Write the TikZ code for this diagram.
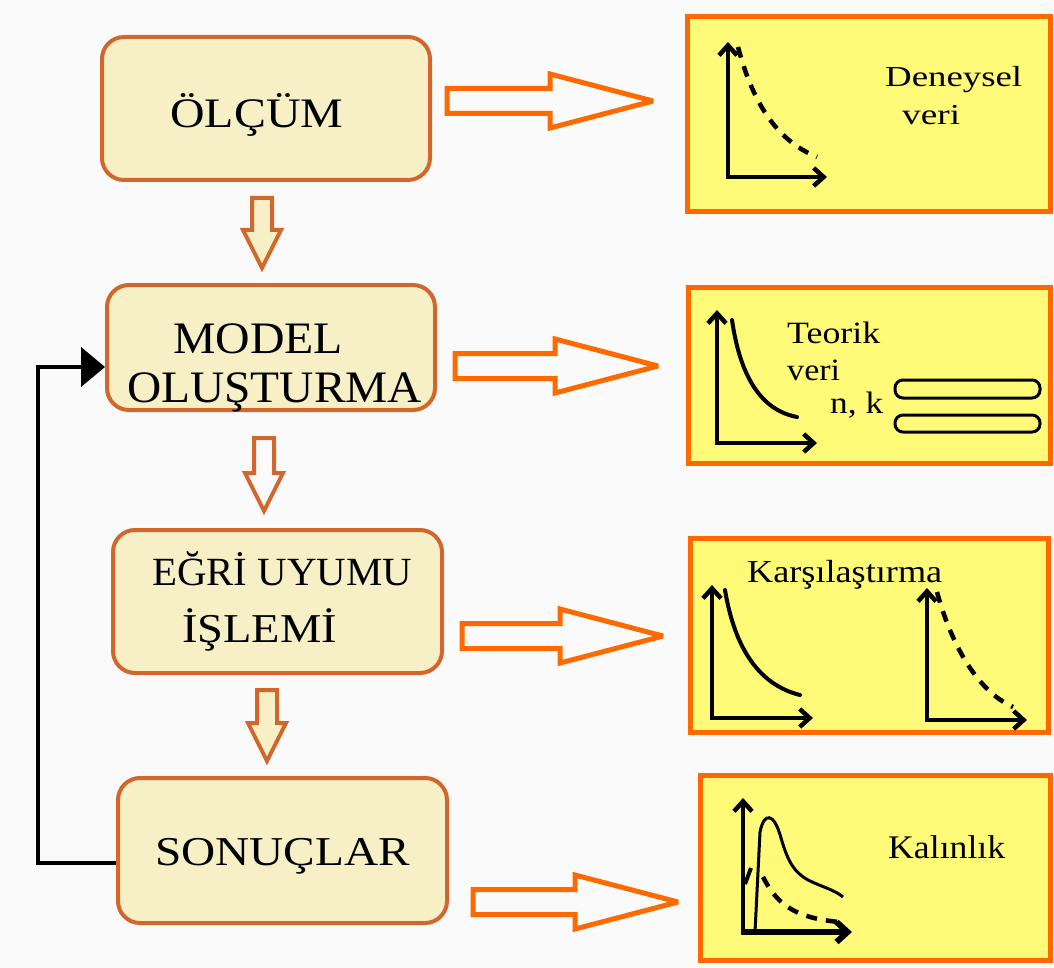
\documentclass[tikz,border=0pt]{standalone}
\usepackage{fontspec}
\setmainfont{Liberation Serif}
\usepackage{graphicx}
\usetikzlibrary{arrows.meta}
\definecolor{bgc}{RGB}{250,250,250}
\definecolor{cream}{RGB}{247,240,199}
\definecolor{brn}{RGB}{210,103,46}
\definecolor{ylw}{RGB}{255,250,120}
\definecolor{org}{RGB}{255,106,0}
\newcommand\mytx[3]{{\fontsize{#1pt}{#1pt}\selectfont\resizebox{#2pt}{\height}{#3}}}
\newcommand\myrarrow[3]{%
 \draw[rarr] (#1,{#2-12.5}) -- ({#1+#3-103},{#2-12.5}) -- ({#1+#3-103},{#2-27}) -- ({#1+#3},#2) -- ({#1+#3-103},{#2+27}) -- ({#1+#3-103},{#2+12.5}) -- (#1,{#2+12.5}) -- cycle;}
\newcommand\mydarrow[4]{%
 \draw[darr, fill=#4] ({#1-10},#2) -- ({#1+10},#2) -- ({#1+10},{#3-38}) -- ({#1+19},{#3-38}) -- (#1,#3) -- ({#1-19},{#3-38}) -- ({#1-10},{#3-38}) -- cycle;}
\begin{document}
\begin{tikzpicture}[x=1pt,y=-1pt,
 lbox/.style={draw=brn, fill=cream, line width=4pt, rounded corners=22pt, inner sep=0pt},
 rbox/.style={draw=org, fill=ylw, line width=5pt, inner sep=0pt},
 lbl/.style={anchor=base west, inner sep=0pt, text=black},
 darr/.style={draw=brn, line width=4pt, line join=miter},
 rarr/.style={draw=org, fill=bgc, line width=5pt, line join=miter, miter limit=2},
 ax/.style={line width=4.5pt, {Straight Barb[length=10pt,width=18pt]}-{Straight Barb[length=10pt,width=18pt]}},
 thickax/.style={line width=6pt, -{Straight Barb[length=11pt,width=20pt]}},
 crv/.style={line width=4pt, line cap=round},
 dsh/.style={line width=4.5pt, dash pattern=on 11pt off 9pt},
 barbox/.style={draw, line width=3pt, rounded corners=8pt},
 fb/.style={line width=4pt, -{Triangle[length=24pt,width=39pt]}}
]
\useasboundingbox (0,0) rectangle (1054,968);
\fill[bgc] (0,0) rectangle (1054,968);

% left process boxes
\node[lbox, minimum width=328pt, minimum height=143pt] (b1) at (266,108.5) {};
\node[lbox, minimum width=328pt, minimum height=125pt] (b2) at (271,347.5) {};
\node[lbox, minimum width=329pt, minimum height=143pt] (b3) at (277.5,601.5) {};
\node[lbox, minimum width=329pt, minimum height=145pt] (b4) at (282.5,850.5) {};

\node[lbl] (t1) at (170,128) {\mytx{42}{173}{ÖLÇÜM}};
\node[lbl] (t2a) at (173,353) {\mytx{45}{170}{MODEL}};
\node[lbl] (t2b) at (127,402) {\mytx{45}{295}{OLUŞTURMA}};
\node[lbl] (t3a) at (152,585) {\mytx{40}{260}{EĞRİ UYUMU}};
\node[lbl] (t3b) at (182,642) {\mytx{41}{155}{İŞLEMİ}};
\node[lbl] (t4) at (155,865) {\mytx{41}{255}{SONUÇLAR}};

% down arrows
\mydarrow{262}{198}{268}{cream}
\mydarrow{264}{438}{511}{bgc}
\mydarrow{267}{690}{761}{cream}

% feedback connector
\draw[fb] ([yshift=-12.5pt]b4.west) -- ++(-78,0) |- ([yshift=-19.5pt]b2.west);

% right boxes
\node[rbox, minimum width=363pt, minimum height=195pt] (r1) at (868.5,114.5) {};
\node[rbox, minimum width=362pt, minimum height=176pt] (r2) at (869,375) {};
\node[rbox, minimum width=358pt, minimum height=194pt] (r3) at (869,635) {};
\node[rbox, minimum width=350pt, minimum height=185pt] (r4) at (875,867.5) {};

% right block arrows
\myrarrow{447}{101}{206}
\myrarrow{455}{366}{203}
\myrarrow{462}{636}{201}
\myrarrow{473}{902}{205}

% chart 1
\draw[ax] (728,42) -- (728,177) -- (827,177);
\draw[dsh] (738,47) .. controls (752,100) and (775,140) .. (817,157);
\node[lbl] (d1) at (885,87) {\mytx{29}{137}{Deneysel}};
\node[lbl] (d2) at (902,125) {\mytx{29}{58}{veri}};

% chart 2
\draw[ax] (717,310) -- (717,443) -- (817,443);
\draw[crv] (732,320) .. controls (740,375) and (760,410) .. (797,417);
\node[lbl] (e1) at (787,343) {\mytx{31}{93}{Teorik}};
\node[lbl] (e2) at (787,380) {\mytx{31}{53}{veri}};
\node[lbl] (e3) at (830,413) {\mytx{31}{53}{n, k}};
\draw[barbox] (895,380) rectangle (1040,398);
\draw[barbox] (895,415) rectangle (1040,432);

% chart 3
\node[lbl] (k1) at (747,582) {\mytx{32}{195}{Karşılaştırma}};
\draw[ax] (712,585) -- (712,718) -- (813,718);
\draw[crv] (725,590) .. controls (735,650) and (760,685) .. (800,695);
\draw[ax] (927,588) -- (927,720) -- (1027,720);
\draw[dsh] (937,592) .. controls (950,640) and (975,690) .. (1013,707);

% chart 4
\draw[line width=4.5pt, {Straight Barb[length=10pt,width=18pt]}-] (743,798) -- (743,932);
\draw[thickax] (741,932) -- (852,932);
\draw[line width=3pt] (755,932) -- (760,832) .. controls (764,812) and (774,812) .. (781,838) .. controls (788,862) and (794,872) .. (808,880) .. controls (822,887) and (835,890) .. (843,897);
\draw[line width=4pt] (745,884) -- (751,868);
\draw[dsh] (763,877) .. controls (775,900) and (790,918) .. (840,922);
\node[lbl] (kl) at (888,858) {\mytx{33}{117}{Kalınlık}};
\end{tikzpicture}
\end{document}
